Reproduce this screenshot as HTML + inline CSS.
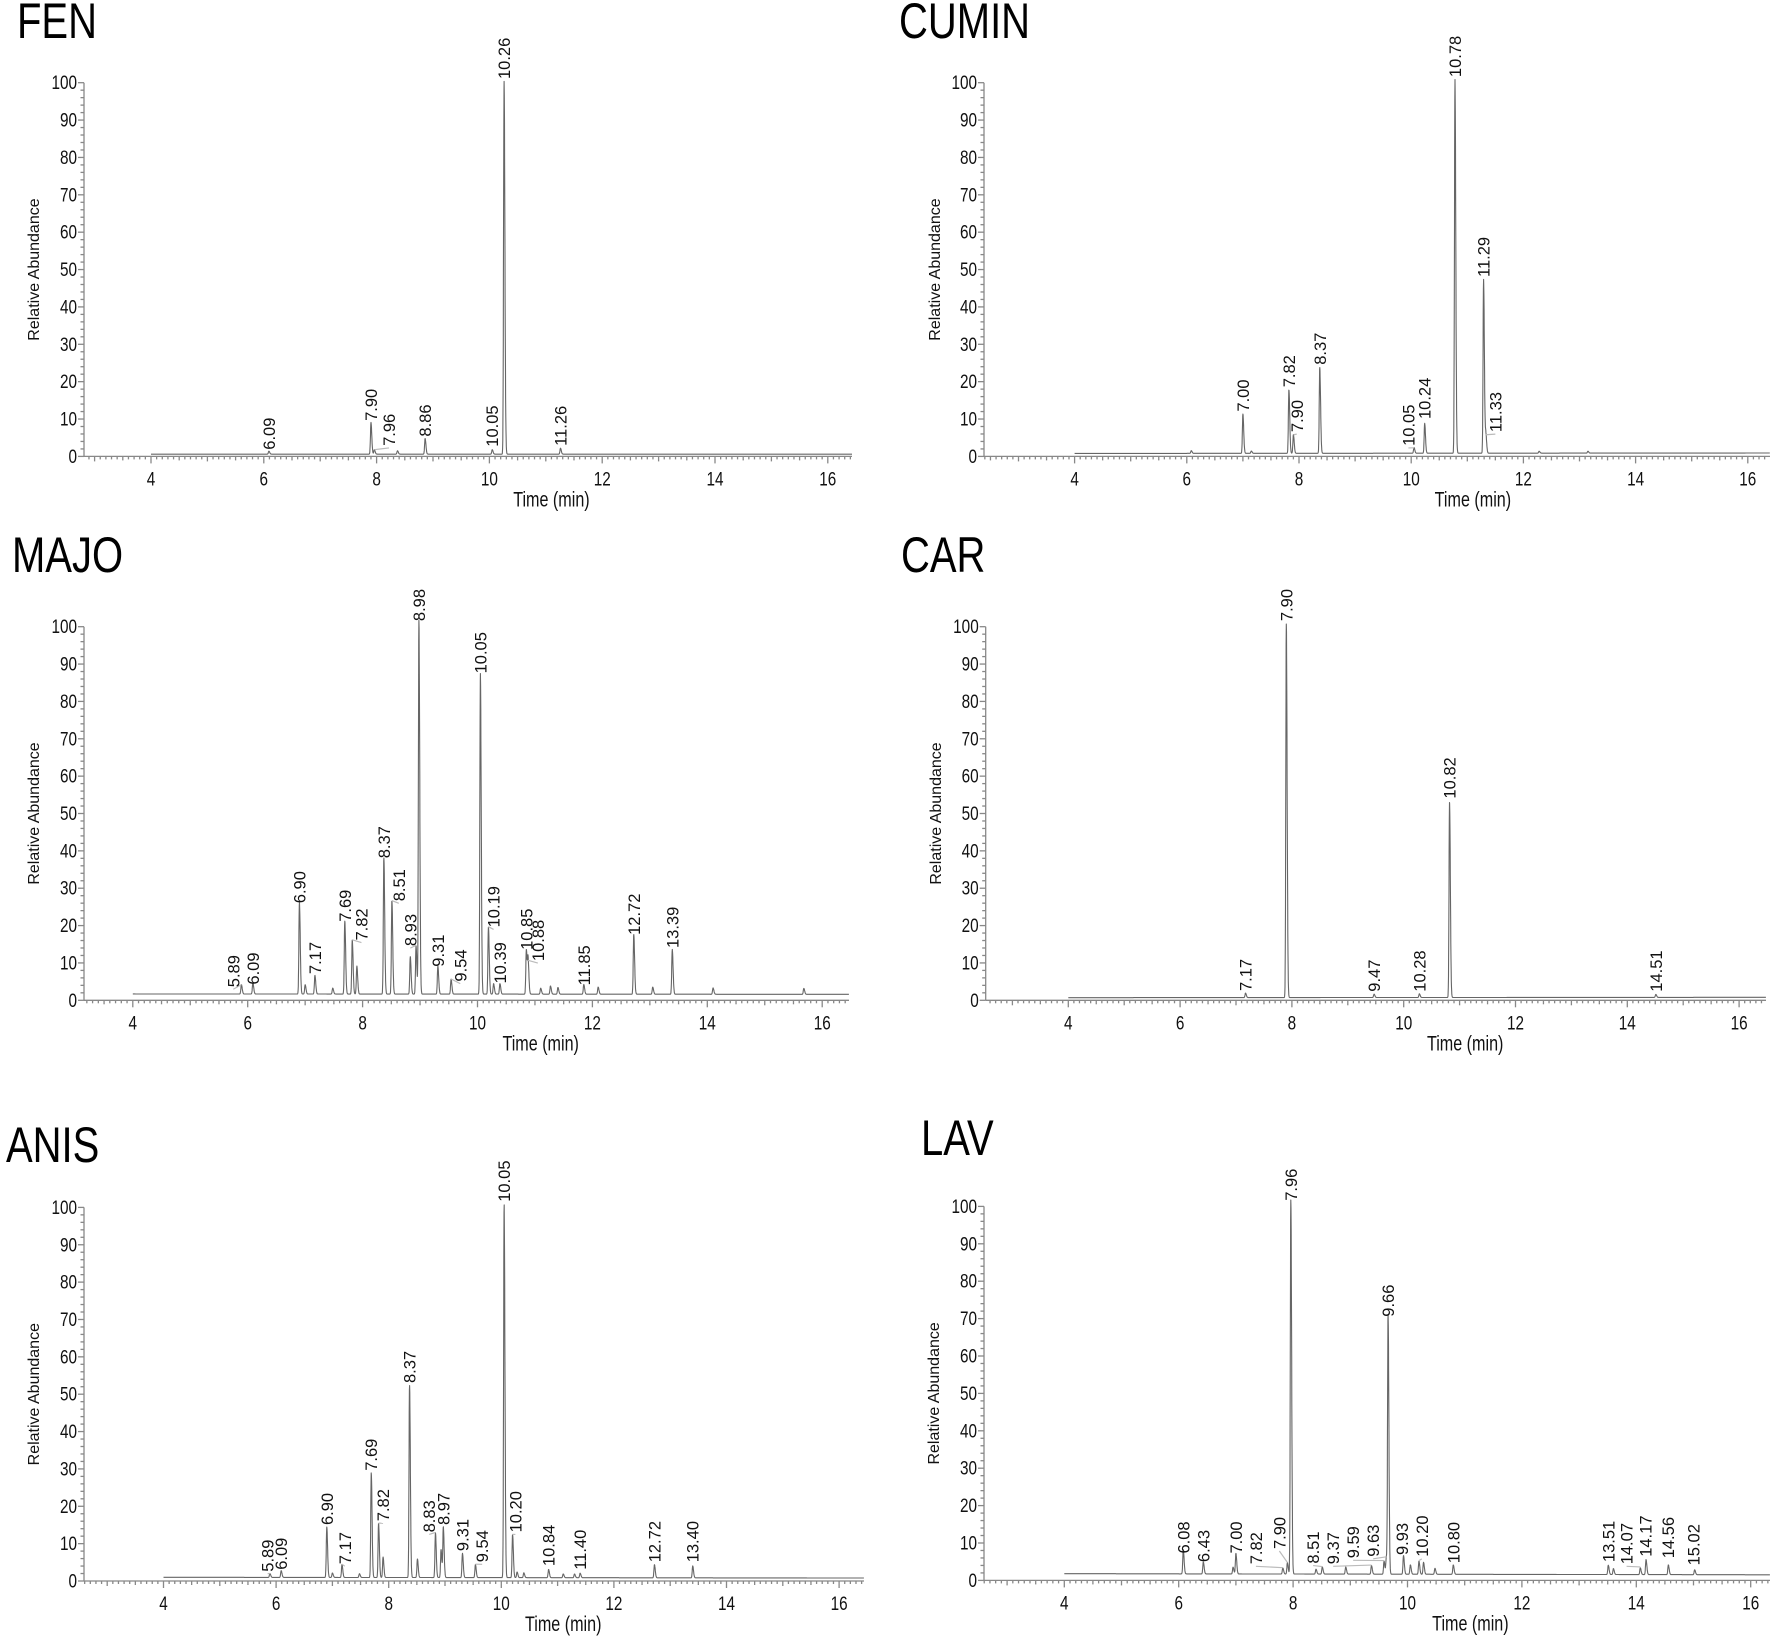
<!DOCTYPE html>
<html><head><meta charset="utf-8">
<style>
html,body{margin:0;padding:0;background:#fff;}
svg{display:block;}
.title{font-family:"Liberation Sans Narrow","Liberation Sans",sans-serif;font-size:50px;fill:#000;}
.tick{font-family:"Liberation Sans Narrow","Liberation Sans",sans-serif;font-size:18px;fill:#111;}
.axt{font-family:"Liberation Sans",sans-serif;font-size:16px;fill:#111;}
.axtn{font-family:"Liberation Sans Narrow","Liberation Sans",sans-serif;font-size:19px;fill:#111;}
.pl{font-family:"Liberation Sans",sans-serif;font-size:16.5px;fill:#111;}
</style></head>
<body>
<svg id="fig" width="1772" height="1636" viewBox="0 0 1772 1636" xmlns="http://www.w3.org/2000/svg"></svg>
<script>
// ---- data: peak retention times (min) and heights (% relative abundance) ----
const fenPeakT = [6.09, 7.90, 7.96, 8.37, 8.86, 10.05, 10.26, 11.26];
const fenPeakH = [0.8, 8.5, 1.2, 0.9, 4.2, 1.2, 100, 1.6];
const fenLabels = ["6.09","7.90","7.96","8.86","10.05","10.26","11.26"];
const fenLabX = [6.09, 7.90, 8.22, 8.86, 10.05, 10.26, 11.26];
const fenLabY = [1.8, 9.5, 2.8, 5.3, 2.6, 101, 2.8];

const cumPeakT = [6.08, 7.00, 7.15, 7.82, 7.90, 8.37, 10.05, 10.24, 10.78, 11.29, 11.33, 12.28, 13.15];
const cumPeakH = [0.7, 10.5, 0.6, 17, 5, 23, 1.5, 8, 100, 46.5, 5, 0.5, 0.5];
const cumLabels = ["7.00","7.82","7.90","8.37","10.05","10.24","10.78","11.29","11.33"];
const cumLabX = [7.00, 7.82, 7.96, 8.37, 9.95, 10.24, 10.78, 11.29, 11.50];
const cumLabY = [12, 18.5, 6.5, 24.5, 2.8, 10, 101.5, 48, 6.5];

const majPeakT = [5.89, 6.09, 6.90, 7.00, 7.17, 7.48, 7.69, 7.82, 7.90, 8.37, 8.51, 8.83, 8.93, 8.98, 9.31, 9.54, 10.05, 10.19, 10.28, 10.39, 10.85, 10.88, 11.10, 11.27, 11.40, 11.85, 12.10, 12.72, 13.05, 13.39, 14.10, 15.68];
const majPeakH = [2.5, 3, 24.5, 2.5, 5, 1.6, 19.5, 14.5, 7.5, 36.5, 25, 10, 13, 100, 7.5, 4, 86, 18, 2.8, 2.8, 12, 9, 1.6, 2.2, 1.8, 2.6, 1.9, 16, 1.9, 12, 1.7, 1.6];
const majLabels = ["5.89","6.09","6.90","7.17","7.69","7.82","8.37","8.51","8.93","8.98","9.31","9.54","10.05","10.19","10.39","10.85","10.88","11.85","12.72","13.39"];
const majLabX = [5.75, 6.09, 6.90, 7.17, 7.69, 7.98, 8.37, 8.63, 8.83, 8.98, 9.31, 9.70, 10.05, 10.28, 10.39, 10.85, 11.05, 11.85, 12.72, 13.39];
const majLabY = [3.5, 4.2, 26, 7, 21, 16, 38, 26.5, 14.5, 101.5, 9, 5, 87.5, 19.5, 4.5, 13.5, 10.5, 4, 17.5, 14];

const carPeakT = [7.17, 7.90, 9.47, 10.28, 10.82, 14.51];
const carPeakH = [1.2, 100, 0.9, 1.0, 52.5, 0.8];
const carLabels = ["7.17","7.90","9.47","10.28","10.82","14.51"];
const carLabX = [7.17, 7.90, 9.47, 10.28, 10.82, 14.51];
const carLabY = [2.5, 101.5, 2.3, 2.3, 54, 2.3];

const aniPeakT = [5.89, 6.09, 6.90, 7.00, 7.17, 7.48, 7.69, 7.82, 7.90, 8.37, 8.51, 8.83, 8.93, 8.97, 9.31, 9.54, 10.05, 10.20, 10.28, 10.40, 10.84, 11.10, 11.30, 11.40, 12.72, 13.40];
const aniPeakH = [1.0, 1.8, 13.5, 1.2, 3.5, 1.0, 28, 14.5, 5.5, 51.5, 5, 12, 7.5, 13.5, 6.5, 3.5, 100, 11.5, 1.5, 1.3, 2.2, 1.0, 1.0, 1.2, 3.5, 3.2];
const aniLabels = ["5.89","6.09","6.90","7.17","7.69","7.82","8.37","8.83","8.97","9.31","9.54","10.05","10.20","10.84","11.40","12.72","13.40"];
const aniLabX = [5.85, 6.09, 6.90, 7.22, 7.69, 7.90, 8.37, 8.72, 8.97, 9.31, 9.66, 10.05, 10.25, 10.84, 11.40, 12.72, 13.40];
const aniLabY = [2.5, 3, 15, 4.5, 29.5, 16, 53, 13, 15, 8, 5, 101.5, 13, 4, 3, 5, 5];

const lavPeakT = [6.08, 6.43, 6.95, 7.00, 7.82, 7.90, 7.96, 8.40, 8.51, 8.92, 9.37, 9.59, 9.63, 9.66, 9.93, 10.05, 10.20, 10.28, 10.48, 10.80, 13.51, 13.60, 14.07, 14.17, 14.56, 15.02];
const lavPeakH = [6.5, 3.2, 1.8, 5.5, 1.6, 3.0, 100, 1.3, 1.9, 1.9, 2.3, 3.5, 4.5, 69, 5, 2.5, 3.5, 3.2, 1.6, 2.5, 2.5, 1.6, 1.8, 4, 2.6, 1.3];
const lavLabels = ["6.08","6.43","7.00","7.82","7.90","7.96","8.51","9.37","9.59","9.63","9.66","9.93","10.20","10.80","13.51","14.07","14.17","14.56","15.02"];
const lavLabX = [6.08, 6.43, 7.00, 7.35, 7.76, 7.96, 8.35, 8.70, 9.05, 9.40, 9.66, 9.90, 10.25, 10.80, 13.51, 13.83, 14.16, 14.55, 15.00];
const lavLabY = [7.2, 4.9, 7.2, 4.3, 8.4, 101.5, 4.5, 4.3, 5.9, 6.3, 70.5, 6.8, 6.3, 4.6, 4.9, 4.3, 6.3, 5.9, 4.0];

const baseFen = [0.6, 0.6];
const baseCum = [0.8, 0.9];
const baseMaj = [1.7, 1.6];
const baseCar = [0.7, 0.8];
const baseAni = [1.0, 0.8];
const baseLav = [1.8, 1.5];

// ---- panel geometry (layout, not data) ----
const panels = [
  {name:"FEN", title:"FEN", tx:17, ty:38, ax:84, t4:151, ppm:56.4, xe:852, y100:82.7, y0:456.4, ytx:34, pt:fenPeakT, ph:fenPeakH, lb:fenLabels, lx:fenLabX, ly:fenLabY, base:baseFen},
  {name:"CUMIN", title:"CUMIN", tx:899, ty:38, ax:984, t4:1074.6, ppm:56.1, xe:1770, y100:82.7, y0:456.4, ytx:935, pt:cumPeakT, ph:cumPeakH, lb:cumLabels, lx:cumLabX, ly:cumLabY, base:baseCum},
  {name:"MAJO", title:"MAJO", tx:12, ty:572, ax:84, t4:132.8, ppm:57.45, xe:849, y100:626.7, y0:1000.3, ytx:34, pt:majPeakT, ph:majPeakH, lb:majLabels, lx:majLabX, ly:majLabY, base:baseMaj},
  {name:"CAR", title:"CAR", tx:901, ty:572, ax:985.7, t4:1068.3, ppm:55.9, xe:1766, y100:626.7, y0:1000.3, ytx:936, pt:carPeakT, ph:carPeakH, lb:carLabels, lx:carLabX, ly:carLabY, base:baseCar},
  {name:"ANIS", title:"ANIS", tx:6, ty:1162, ax:84, t4:163.5, ppm:56.3, xe:864, y100:1207.4, y0:1581, ytx:34, pt:aniPeakT, ph:aniPeakH, lb:aniLabels, lx:aniLabX, ly:aniLabY, base:baseAni},
  {name:"LAV", title:"LAV", tx:921, ty:1155, ax:984, t4:1064.3, ppm:57.2, xe:1770, y100:1206.4, y0:1580.4, ytx:934, pt:lavPeakT, ph:lavPeakH, lb:lavLabels, lx:lavLabX, ly:lavLabY, base:baseLav}
];
const yTicks = [0,10,20,30,40,50,60,70,80,90,100];
const xTicks = [4,6,8,10,12,14,16];

const NS = "http://www.w3.org/2000/svg";
const svg = document.getElementById("fig");
function mk(tag, attrs, parent){
  const e = document.createElementNS(NS, tag);
  for (const k in attrs) e.setAttribute(k, attrs[k]);
  parent.appendChild(e);
  return e;
}

panels.forEach(p => {
  const xs = t => p.t4 + (t - 4) * p.ppm;
  const ys = v => p.y0 - v * (p.y0 - p.y100) / 100;
  const tMin = 4 - (p.t4 - p.ax) / p.ppm;
  const tMax = 4 + (p.xe - p.t4) / p.ppm;
  const g = mk("g", {}, svg);
  
  

  const ti = mk("text", {x:0, y:0, class:"title", transform:`translate(${p.tx},${p.ty}) scale(0.8,1)`}, g);
  ti.textContent = p.title;
  
  

  const axes = mk("g", {stroke:"#888", "stroke-width":1.3, fill:"none"}, g);
  
  
  mk("line", {x1:p.ax, y1:ys(0), x2:p.ax, y2:ys(100)}, axes);
  mk("line", {x1:p.ax, y1:ys(0), x2:p.xe, y2:ys(0)}, axes);
  for (let v = 0; v <= 100; v += 2) {
    const len = v % 10 === 0 ? 6 : 3.5;
    mk("line", {x1:p.ax - len, y1:ys(v), x2:p.ax, y2:ys(v)}, axes);
  }
  for (let k = Math.ceil(tMin * 10); k <= Math.floor(tMax * 10); k++) {
    const t = k / 10;
    let len = 3;
    if (k % 20 === 0) len = 7; else if (k % 10 === 0) len = 5; else if (k % 5 === 0) len = 4;
    mk("line", {x1:xs(t), y1:ys(0), x2:xs(t), y2:ys(0) + len}, axes);
  }
  yTicks.forEach(v => {
    const t = mk("text", {x:0, y:0, "text-anchor":"end", class:"tick", transform:`translate(${p.ax - 7},${ys(v) + 6.5}) scale(0.85,1.1)`}, g);
    t.textContent = v;
    
    
  });
  xTicks.forEach(v => {
    const t = mk("text", {x:0, y:0, "text-anchor":"middle", class:"tick", transform:`translate(${xs(v)},${ys(0) + 29}) scale(0.85,1.1)`}, g);
    t.textContent = v;
    
    
  });
  const xt = mk("text", {x:0, y:0, "text-anchor":"middle", class:"axtn", transform:`translate(${xs(11.1)},${ys(0) + 50}) scale(0.85,1.1)`}, g);
  xt.textContent = "Time (min)";
  
  
  const yt = mk("text", {x:0, y:0, "text-anchor":"middle", class:"axt", transform:`translate(${p.ytx + 5},${ys(50)}) rotate(-90)`}, g);
  yt.textContent = "Relative Abundance";
  
  

  const sig = 0.009;
  let d = "";
  for (let t = 4; t <= tMax; t += 0.003) {
    const f = (t - 4) / (tMax - 4);
    let v = p.base[0] + (p.base[1] - p.base[0]) * f;
    for (let i = 0; i < p.pt.length; i++) {
      const dt = t - p.pt[i];
      const s = dt > 0 ? sig * 1.6 : sig;
      v += p.ph[i] * Math.exp(-dt * dt / (2 * s * s));
    }
    d += (d ? "L" : "M") + xs(t).toFixed(1) + "," + ys(v).toFixed(1);
  }
  const tr = mk("path", {d:d, stroke:"#666", "stroke-width":1.1, fill:"none", "stroke-linejoin":"round"}, g);
  
  

  p.lb.forEach((lab, i) => {
    const lx = p.lx[i], ly = p.ly[i];
    const pv = parseFloat(lab);
    let j = 0;
    for (let k = 0; k < p.pt.length; k++) if (Math.abs(p.pt[k] - pv) < Math.abs(p.pt[j] - pv)) j = k;
    if (Math.abs(lx - pv) > 0.04) {
      const ld = mk("line", {x1:xs(p.pt[j]), y1:ys(p.ph[j] + p.base[0]), x2:xs(lx), y2:ys(ly) + 2, stroke:"#bbb", "stroke-width":1.2}, g);
      
      
    }
    const px = xs(lx) + 6, py = ys(ly);
    const t = mk("text", {x:0, y:0, class:"pl", transform:`translate(${px.toFixed(1)},${py.toFixed(1)}) rotate(-90)`}, g);
    t.textContent = lab;
    
    
  });
});
</script>
</body></html>
